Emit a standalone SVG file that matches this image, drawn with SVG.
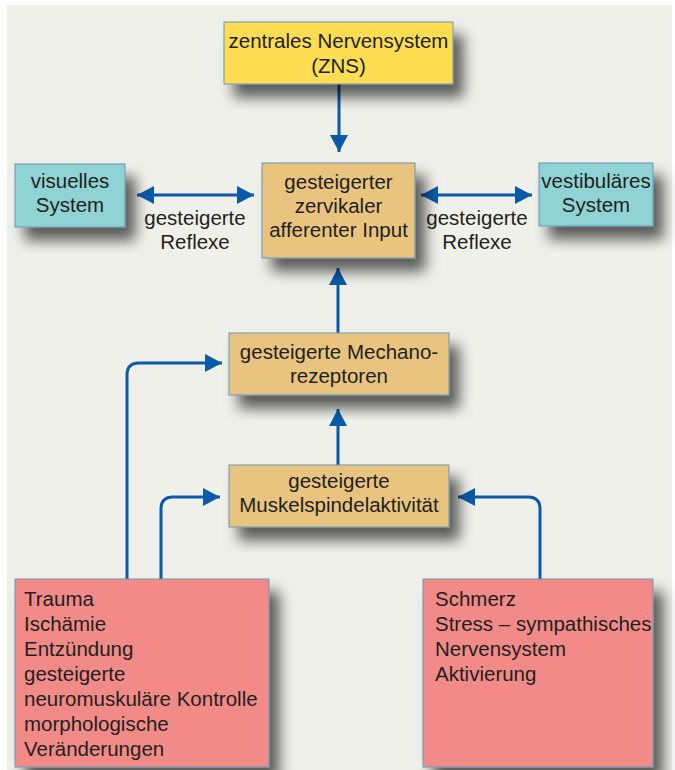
<svg xmlns="http://www.w3.org/2000/svg" width="675" height="770" viewBox="0 0 675 770">
<style>
.box{stroke:#6a94b4;stroke-width:1}
.t{font-family:"Liberation Sans",Arial,sans-serif;font-size:20.5px;fill:#231f20}
.c{text-anchor:middle}
.con{fill:none;stroke:#0a5aab;stroke-width:3}
</style>
<defs>
<filter id="sh" x="-20%" y="-20%" width="150%" height="160%">
<feDropShadow dx="10" dy="13" stdDeviation="7" flood-color="#000" flood-opacity="0.62"/>
</filter>
<marker id="ah" markerUnits="userSpaceOnUse" markerWidth="18" markerHeight="18" viewBox="0 0 18 18" refX="17" refY="9" orient="auto-start-reverse">
<path d="M0,0 L17,9 L0,18 Z" fill="#0a5aab"/>
</marker>
</defs>
<rect x="0" y="0" width="675" height="770" fill="#ffffff"/>
<rect x="7" y="5" width="665" height="765" fill="#f0f0eb"/>

<g id="connectors">
<path class="con" d="M339,84 V152" marker-end="url(#ah)"/>
<path class="con" d="M338,333 V268" marker-end="url(#ah)"/>
<path class="con" d="M338,465 V409" marker-end="url(#ah)"/>
<path class="con" d="M137,195 H254" marker-start="url(#ah)" marker-end="url(#ah)"/>
<path class="con" d="M421,195 H532" marker-start="url(#ah)" marker-end="url(#ah)"/>
<path class="con" d="M127,579 V375 Q127,363 139,363 H222" marker-end="url(#ah)"/>
<path class="con" d="M161,579 V509 Q161,497 173,497 H220" marker-end="url(#ah)"/>
<path class="con" d="M540,579 V509 Q540,497 528,497 H458" marker-end="url(#ah)"/>
<text class="t c" x="195" y="225">gesteigerte</text>
<text class="t c" x="195" y="249">Reflexe</text>
<text class="t c" x="477" y="225">gesteigerte</text>
<text class="t c" x="477" y="249">Reflexe</text>
</g>

<g id="zns">
<rect class="box" x="224" y="22" width="229" height="62" fill="#fedd52" filter="url(#sh)"/>
<text class="t c" x="338.5" y="48">zentrales Nervensystem</text>
<text class="t c" x="338.5" y="73">(ZNS)</text>
</g>

<g id="visuell">
<rect class="box" x="15" y="164" width="110" height="63" fill="#8fd3d4" filter="url(#sh)"/>
<text class="t c" x="70" y="188">visuelles</text>
<text class="t c" x="70" y="212">System</text>
</g>

<g id="input">
<rect class="box" x="262" y="163" width="153" height="95" fill="#e8c47e" filter="url(#sh)"/>
<text class="t c" x="338.5" y="189">gesteigerter</text>
<text class="t c" x="338.5" y="213">zervikaler</text>
<text class="t c" x="338.5" y="237">afferenter Input</text>
</g>

<g id="vestibular">
<rect class="box" x="539" y="163" width="114" height="63" fill="#8fd3d4" filter="url(#sh)"/>
<text class="t c" x="596" y="188">vestibuläres</text>
<text class="t c" x="596" y="212">System</text>
</g>

<g id="mechano">
<rect class="box" x="229" y="333" width="220" height="62" fill="#e8c47e" filter="url(#sh)"/>
<text class="t c" x="339" y="359">gesteigerte Mechano-</text>
<text class="t c" x="339" y="383">rezeptoren</text>
</g>

<g id="muskel">
<rect class="box" x="229" y="465" width="220" height="62" fill="#e8c47e" filter="url(#sh)"/>
<text class="t c" x="339" y="488">gesteigerte</text>
<text class="t c" x="339" y="512">Muskelspindelaktivität</text>
</g>

<g id="ursachen-links">
<rect class="box" x="15" y="579" width="254" height="188" fill="#f28b88" filter="url(#sh)"/>
<text class="t" x="24" y="606">Trauma</text>
<text class="t" x="24" y="631">Ischämie</text>
<text class="t" x="24" y="656">Entzündung</text>
<text class="t" x="24" y="681">gesteigerte</text>
<text class="t" x="24" y="706">neuromuskuläre Kontrolle</text>
<text class="t" x="24" y="731">morphologische</text>
<text class="t" x="24" y="756">Veränderungen</text>
</g>

<g id="ursachen-rechts">
<rect class="box" x="423" y="579" width="230" height="188" fill="#f28b88" filter="url(#sh)"/>
<text class="t" x="435" y="606">Schmerz</text>
<text class="t" x="435" y="631">Stress – sympathisches</text>
<text class="t" x="435" y="656">Nervensystem</text>
<text class="t" x="435" y="681">Aktivierung</text>
</g>
</svg>
